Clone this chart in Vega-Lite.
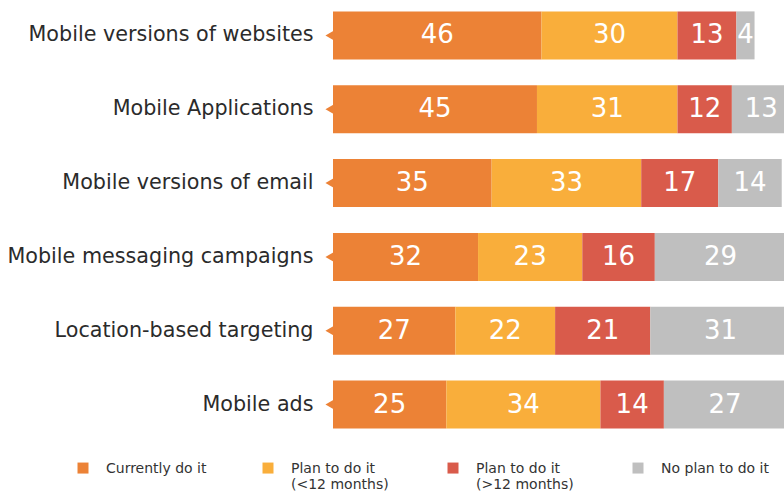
{
  "$schema": "https://vega.github.io/schema/vega-lite/v6.json",
  "autosize": "none",
  "width": 451,
  "height": 432,
  "padding": {"left": 333, "top": 4, "right": 0, "bottom": 66},
  "background": "white",
  "config": {
    "view": {"stroke": null},
    "font": "DejaVu Sans"
  },
  "data": {
    "values": [
      {"item": "Mobile versions of websites", "status": "Currently do it|", "k": 1, "value": 46},
      {"item": "Mobile versions of websites", "status": "Plan to do it|(<12 months)", "k": 2, "value": 30},
      {"item": "Mobile versions of websites", "status": "Plan to do it|(>12 months)", "k": 3, "value": 13},
      {"item": "Mobile versions of websites", "status": "No plan to do it|", "k": 4, "value": 4},
      {"item": "Mobile Applications", "status": "Currently do it|", "k": 1, "value": 45},
      {"item": "Mobile Applications", "status": "Plan to do it|(<12 months)", "k": 2, "value": 31},
      {"item": "Mobile Applications", "status": "Plan to do it|(>12 months)", "k": 3, "value": 12},
      {"item": "Mobile Applications", "status": "No plan to do it|", "k": 4, "value": 13},
      {"item": "Mobile versions of email", "status": "Currently do it|", "k": 1, "value": 35},
      {"item": "Mobile versions of email", "status": "Plan to do it|(<12 months)", "k": 2, "value": 33},
      {"item": "Mobile versions of email", "status": "Plan to do it|(>12 months)", "k": 3, "value": 17},
      {"item": "Mobile versions of email", "status": "No plan to do it|", "k": 4, "value": 14},
      {"item": "Mobile messaging campaigns", "status": "Currently do it|", "k": 1, "value": 32},
      {"item": "Mobile messaging campaigns", "status": "Plan to do it|(<12 months)", "k": 2, "value": 23},
      {"item": "Mobile messaging campaigns", "status": "Plan to do it|(>12 months)", "k": 3, "value": 16},
      {"item": "Mobile messaging campaigns", "status": "No plan to do it|", "k": 4, "value": 29},
      {"item": "Location-based targeting", "status": "Currently do it|", "k": 1, "value": 27},
      {"item": "Location-based targeting", "status": "Plan to do it|(<12 months)", "k": 2, "value": 22},
      {"item": "Location-based targeting", "status": "Plan to do it|(>12 months)", "k": 3, "value": 21},
      {"item": "Location-based targeting", "status": "No plan to do it|", "k": 4, "value": 31},
      {"item": "Mobile ads", "status": "Currently do it|", "k": 1, "value": 25},
      {"item": "Mobile ads", "status": "Plan to do it|(<12 months)", "k": 2, "value": 34},
      {"item": "Mobile ads", "status": "Plan to do it|(>12 months)", "k": 3, "value": 14},
      {"item": "Mobile ads", "status": "No plan to do it|", "k": 4, "value": 27}
    ]
  },
  "transform": [
    {"stack": "value", "groupby": ["item"], "sort": [{"field": "k"}], "as": ["v0", "v1"]},
    {"calculate": "(datum.v0 + datum.v1) / 2", "as": "mid"}
  ],
  "encoding": {
    "y": {
      "field": "item",
      "type": "nominal",
      "sort": null,
      "scale": {"paddingInner": 0.35, "paddingOuter": 0.1},
      "axis": {
        "title": null,
        "domain": false,
        "ticks": false,
        "labelPadding": 20,
        "labelFontSize": 20.7,
        "labelColor": "#2b2b2b",
        "labelLimit": 340
      }
    }
  },
  "layer": [
    {
      "mark": {"type": "bar"},
      "encoding": {
        "x": {
          "field": "v0",
          "type": "quantitative",
          "scale": {"domain": [0, 99.5], "nice": false},
          "axis": null
        },
        "x2": {"field": "v1"},
        "color": {
          "field": "status",
          "type": "nominal",
          "scale": {
            "domain": ["Currently do it|", "Plan to do it|(<12 months)", "Plan to do it|(>12 months)", "No plan to do it|"],
            "range": ["#EC8236", "#F9AE3B", "#D95B4B", "#BFBFBF"]
          },
          "legend": {
            "title": null,
            "orient": "none",
            "direction": "horizontal",
            "legendX": -257,
            "legendY": 451,
            "gridAlign": "all",
            "columnPadding": 47,
            "symbolType": "M-1,0.1H1V2.1H-1Z",
            "symbolSize": 121,
            "symbolStrokeWidth": 0,
            "symbolOffset": 0,
            "labelOffset": 16,
            "labelFontSize": 14,
            "labelColor": "#333333",
            "labelBaseline": "top",
            "labelExpr": "split(datum.label, '|')",
            "labelLimit": 200
          }
        }
      }
    },
    {
      "transform": [{"filter": "datum.k == 1"}],
      "mark": {"type": "point", "shape": "triangle-left", "filled": true, "size": 110, "opacity": 1, "xOffset": -3, "color": "#EC8236"},
      "encoding": {
        "x": {"datum": 0, "type": "quantitative"}
      }
    },
    {
      "mark": {"type": "text", "color": "white", "fontSize": 26, "baseline": "middle"},
      "encoding": {
        "x": {"field": "mid", "type": "quantitative"},
        "text": {"field": "value", "type": "quantitative"}
      }
    }
  ]
}
